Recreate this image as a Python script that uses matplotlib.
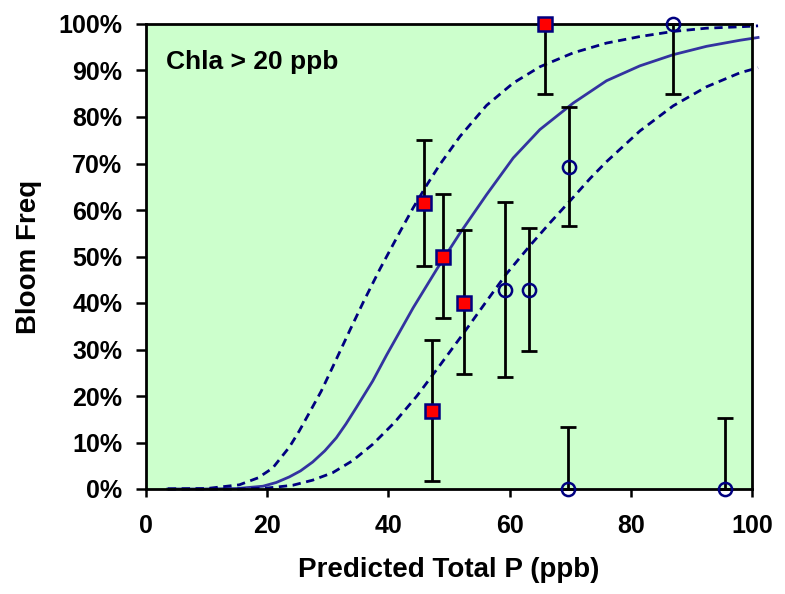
import numpy as np
import matplotlib
matplotlib.use("Agg")
import matplotlib.pyplot as plt
from matplotlib.ticker import PercentFormatter

# observed bloom frequencies (filled squares / open circles) with error bar limits
sq_x = [45.9, 49.0, 52.5, 47.2, 65.8]
sq_y = [61.5, 50.0, 40.0, 16.7, 100.0]
sq_lo = [48.0, 36.8, 24.7, 1.7, 84.9]
sq_hi = [75.0, 63.4, 55.7, 32.0, 100.0]

ci_x = [59.2, 63.2, 69.8, 69.6, 87.0, 95.5]
ci_y = [42.9, 42.9, 69.2, 0.0, 100.0, 0.0]
ci_lo = [24.1, 29.7, 56.6, 0.0, 85.0, 0.0]
ci_hi = [61.7, 56.1, 82.2, 13.3, 100.0, 15.3]

# fitted curve and confidence bands
fit_x = [3.6, 10, 15, 19.3, 21.5, 23.65, 25.5, 27.5, 29.5, 31.4, 33.0, 34.7, 37.4,
         39.7, 44.1, 48.0, 51.8, 56.2, 60.6, 65.0, 70.5, 76.0, 81.5, 87.0, 92.5,
         98.0, 101]
fit_y = [0.0, 0.0, 0.1, 0.6, 1.4, 2.6, 3.9, 5.8, 8.2, 11.0, 14.0, 17.5, 23.2,
         28.8, 39.0, 47.3, 55.0, 63.3, 71.2, 77.3, 83.0, 87.8, 91.0, 93.4, 95.2,
         96.5, 97.1]

up_x = [3.6, 10, 15.4, 18.5, 20.9, 23.65, 25.3, 27.0, 28.9, 30.9, 33.7, 35.9, 38.6,
        41.9, 44.1, 46.3, 48.5, 51.8, 56.2, 60.6, 65.0, 70.5, 76.0, 81.5, 87.0, 92.5,
        98.0, 101]
up_y = [0.0, 0.1, 0.9, 2.4, 4.5, 9.0, 12.5, 16.5, 21.0, 26.5, 34.3, 40.3, 47.3,
        55.3, 60.5, 65.3, 69.8, 75.8, 82.5, 87.3, 90.8, 93.8, 95.9, 97.3, 98.4, 99.1,
        99.4, 99.6]

lo_x = [3.6, 10, 15, 20, 24.2, 27.5, 30.8, 34.1, 37.4, 41.0, 44.7, 48.5, 52.4, 56.2,
        59.5, 63.4, 66.7, 70.0, 73.3, 76.0, 81.5, 87.0, 92.5, 98.0, 101]
lo_y = [0.0, 0.0, 0.0, 0.2, 0.8, 1.9, 3.5, 6.1, 9.6, 14.3, 20.0, 26.6, 33.5, 40.4,
        46.3, 52.4, 57.3, 62.0, 66.8, 70.4, 77.0, 82.4, 86.5, 89.5, 90.6]

NAVY = "#000080"
FIT = "#3333A0"
BG = "#CCFFCC"

plt.rcParams['font.family'] = ['Liberation Sans', 'DejaVu Sans']
plt.rcParams['font.weight'] = 'bold'

fig = plt.figure(figsize=(7.85, 5.94), dpi=100)
ax = fig.add_axes([146 / 785, 1 - 489 / 594, (752 - 146) / 785, (489 - 24) / 594])
ax.set_facecolor(BG)

ax.plot(fit_x, fit_y, color=FIT, lw=2.0, clip_on=False, zorder=2)
ax.plot(up_x, up_y, color=NAVY, lw=2.0, ls=(0, (3, 2)), clip_on=False, zorder=2)
ax.plot(lo_x, lo_y, color=NAVY, lw=2.0, ls=(0, (3, 2)), clip_on=False, zorder=2)

sq_err = [np.array(sq_y) - np.array(sq_lo), np.array(sq_hi) - np.array(sq_y)]
ci_err = [np.array(ci_y) - np.array(ci_lo), np.array(ci_hi) - np.array(ci_y)]
ax.errorbar(sq_x, sq_y, yerr=sq_err, fmt='none', ecolor='black', elinewidth=2.0,
            capsize=6, capthick=2.0, clip_on=False, zorder=3)
ax.errorbar(ci_x, ci_y, yerr=ci_err, fmt='none', ecolor='black', elinewidth=2.0,
            capsize=6, capthick=2.0, clip_on=False, zorder=3)

ax.plot(sq_x, sq_y, ls='none', marker='s', ms=10.5, mfc='red', mec=NAVY, mew=1.8,
        clip_on=False, zorder=4)
ax.plot(ci_x, ci_y, ls='none', marker='o', ms=9.5, mfc='none', mec=NAVY, mew=1.8,
        clip_on=False, zorder=4)

ax.set_xlim(0, 100)
ax.set_ylim(0, 100)
ax.set_xticks(range(0, 101, 20))
ax.set_yticks(range(0, 101, 10))
ax.yaxis.set_major_formatter(PercentFormatter(decimals=0))
ax.tick_params(axis='y', direction='out', length=7, width=1.8, pad=10, labelsize=18)
ax.tick_params(axis='x', direction='out', length=6, width=1.8, pad=12, labelsize=18)
for s in ax.spines.values():
    s.set_linewidth(2.0)
    s.set_color('black')

ax.set_xlabel('Predicted Total P (ppb)', fontsize=20, fontweight='bold', labelpad=14)
ax.set_ylabel('Bloom Freq', fontsize=20, fontweight='bold', labelpad=12)
ax.text(0.033, 0.945, 'Chla > 20 ppb', transform=ax.transAxes, fontsize=19,
        fontweight='bold', va='top', ha='left')

fig.savefig('out.png', dpi=100)
